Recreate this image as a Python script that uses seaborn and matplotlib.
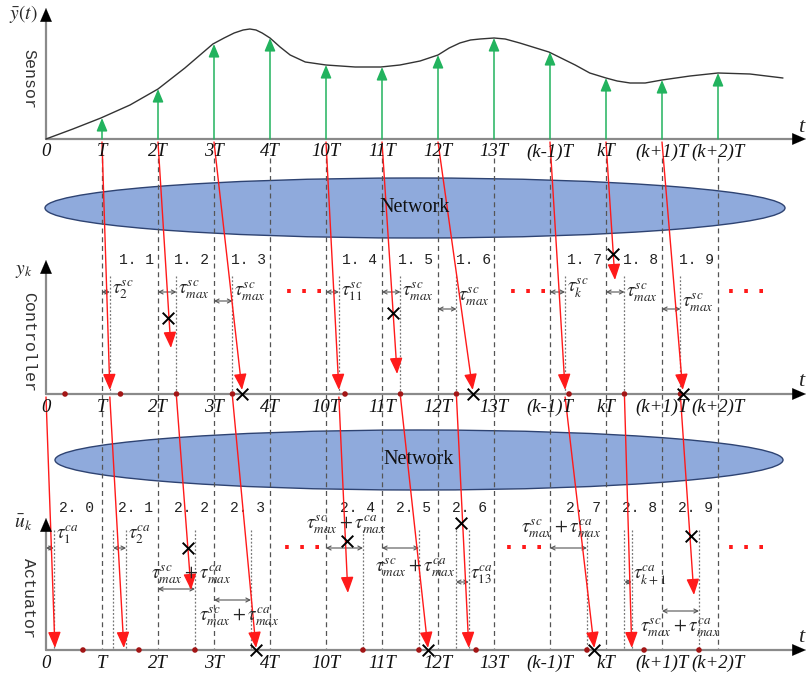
import matplotlib
matplotlib.use("Agg")
import matplotlib.pyplot as plt
from matplotlib.patches import Ellipse
import seaborn as sns

# ---------------- data ----------------
tick_slots = [0, 1, 2, 3, 4, 5, 6, 7, 8, 9, 10, 11, 12]
tick_labels = ["0", "T", "2T", "3T", "4T", "10T", "11T", "12T", "13T",
               "(k-1)T", "kT", "(k+1)T", "(k+2)T"]

# continuous sensor signal (time in sample slots, value = height above axis)
curve_t = [0, 0.48, 0.98, 1.5, 2.0, 2.48, 2.98, 3.18, 3.36, 3.52, 3.64, 3.75, 3.86, 4.0,
           4.18, 4.36, 4.63, 5.0, 5.52, 5.98, 6.32, 6.68, 7.0, 7.2, 7.39, 7.58, 7.75, 8.0,
           8.2, 8.46, 8.98, 9.45, 9.71, 10.0, 10.2, 10.43, 10.7, 11.0, 11.5, 12.0, 12.57,
           13.16]
curve_val = [0, 10, 21, 34, 50, 71, 95, 101, 106, 109, 110, 109, 106, 101,
             92, 84, 77, 74, 72, 72, 74, 78, 84, 91, 96, 99, 100, 101,
             100, 96, 87, 74, 66, 61, 58, 56, 56, 59, 63, 66, 65,
             61]

# sampled values (green arrows)
sample_t = [1, 2, 3, 4, 5, 6, 7, 8, 9, 10, 11, 12]
sample_val = [21, 50, 95, 101, 74, 72, 84, 101, 87, 61, 59, 66]

# sensor -> controller packets
sc_send_t = [1, 2, 3, 5, 6, 7, 9, 10, 11]
sc_recv_t = [1.14, 2.23, 3.50, 5.23, 6.27, 7.62, 9.27, 10.16, 11.37]

# controller delays tau^sc
ctrl_delay_start = [1, 2, 3, 5, 6, 7, 9, 10, 11]
ctrl_delay_end = [1.14, 2.33, 3.33, 5.23, 6.33, 7.33, 9.27, 10.33, 11.33]
ctrl_delay_text = [r"$\tau_2^{sc}$", r"$\tau_{max}^{sc}$", r"$\tau_{max}^{sc}$",
                   r"$\tau_{11}^{sc}$", r"$\tau_{max}^{sc}$", r"$\tau_{max}^{sc}$",
                   r"$\tau_k^{sc}$", r"$\tau_{max}^{sc}$", r"$\tau_{max}^{sc}$"]
ctrl_dot_t = [0.34, 1.33, 2.33, 3.33, 5.34, 6.33, 7.33, 9.34, 10.33, 11.33]
ctrl_cross_axis_t = [3.50, 7.62, 11.37]
ctrl_cross_air_t = [2.18, 6.20, 10.13]

# controller -> actuator packets
ca_send_t = [0, 1.14, 2.33, 3.33, 5.23, 6.33, 7.33, 9.27, 10.33, 11.33]
ca_recv_t = [0.16, 1.39, 2.59, 3.75, 5.39, 6.82, 7.55, 9.79, 10.46, 11.57]

# actuator delays
act_delay_start = [0, 1.20, 2, 3, 5, 6, 7.32, 9, 10.33, 11]
act_delay_end = [0.14, 1.43, 2.66, 3.66, 5.66, 6.66, 7.55, 9.66, 10.46, 11.66]
tsum = r"$\tau_{max}^{sc}+\tau_{max}^{ca}$"
act_delay_text = [r"$\tau_1^{ca}$", r"$\tau_2^{ca}$", tsum, tsum, tsum, tsum,
                  r"$\tau_{13}^{ca}$", tsum, r"$\tau_{k+1}^{ca}$", tsum]
act_dotted_t = [0.14, 1.20, 1.43, 2.66, 3.66, 5.66, 6.66, 7.32, 7.55, 9.66,
                10.33, 10.46, 11.66]
act_dot_t = [0.66, 1.66, 2.66, 5.66, 6.66, 7.68, 9.66, 10.68, 11.66]
act_cross_axis_t = [3.75, 6.82, 9.79]
act_cross_air_t = [2.54, 5.38, 7.41, 11.52]

ctrl_region_t = [1.61, 2.59, 3.61, 5.59, 6.59, 7.63, 9.61, 10.61, 11.61]
ctrl_region_lab = ["1. 1", "1. 2", "1. 3", "1. 4", "1. 5", "1. 6", "1. 7", "1. 8", "1. 9"]
act_region_t = [0.55, 1.60, 2.59, 3.60, 5.57, 6.57, 7.57, 9.60, 10.60, 11.60]
act_region_lab = ["2. 0", "2. 1", "2. 2", "2. 3", "2. 4", "2. 5", "2. 6", "2. 7", "2. 8", "2. 9"]
dots_t_ctrl = [4.6, 8.6, 12.5]
dots_t_act = [4.57, 8.54, 12.5]

# ---------------- layout (pixel-like vertical units) ----------------
PX = 56.0          # pixels per slot
X0 = 46.0          # pixel position of time 0
SENS_Y, CTRL_Y, ACT_Y = 139, 394, 650
sc_end_y = [390, 348, 390, 390, 374, 390, 390, 280, 390]
ctrl_arrow_y = [292, 292, 301, 292, 292, 309, 292, 292, 309]
ctrl_lab_y = [290, 290, 292, 292, 292, 297, 288, 293, 303]
ctrl_cross_air_y = [318, 313, 254]
ca_end_y = [648, 648, 590, 648, 593, 648, 648, 648, 648, 595]
act_arrow_y = [548, 548, 589, 600, 548, 548, 582, 548, 582, 611]
act_lab_y = [535, 535, 575, 617, 525, 568, 575, 529, 575, 628]
act_lab_ha = ["left", "left", "c", "c", "c", "c", "left", "c", "left", "c"]
act_lab_cx = [None, None, 2.59, 3.45, 5.36, 6.59, None, 9.2, None, 11.32]
act_cross_air_y = [548, 541, 523, 536]

sns.set_theme(style="white")
plt.rcParams["mathtext.fontset"] = "stix"
plt.rcParams["font.family"] = ["DejaVu Sans"]

fig = plt.figure(figsize=(8.08, 6.76), dpi=100)
ax = fig.add_axes([0, 0, 1, 1])
ax.set_xlim(-X0 / PX, (808 - X0) / PX)
ax.set_ylim(676, 0)
ax.axis("off")

RED = "#ff1a1a"
GREEN = "#22b35e"
GRAY = "#555555"
AXC = "#8a8a8a"
SERIF = "Liberation Serif"
MONO = "Liberation Mono"
TAU_FS = 13.5


def arrow(x0, y0, x1, y1, color, lw=1.0, style="-|>", ms=12, z=4):
    ax.annotate("", xy=(x1, y1), xytext=(x0, y0),
                arrowprops=dict(arrowstyle=style, color=color, lw=lw,
                                shrinkA=0, shrinkB=0, mutation_scale=ms),
                zorder=z)


def axes_frame(y0, ytop, ylab, ylab_y, name, name_y):
    xend = (806 - X0) / PX
    ax.plot([0, 0], [y0, ytop + 8], color=AXC, lw=1.6, zorder=3)
    ax.plot([0, xend - 0.15], [y0, y0], color=AXC, lw=1.6, zorder=3)
    arrow(0, ytop + 10, 0, ytop, "black", lw=0.1, style="-|>,head_length=0.7,head_width=0.3", ms=14, z=5)
    arrow(xend - 0.18, y0, xend, y0, "black", lw=0.1, style="-|>,head_length=0.7,head_width=0.3", ms=14, z=5)
    ax.text((801 - X0) / PX, y0 - 12, "t", fontsize=16, style="italic",
            family=SERIF, ha="center", va="center")
    ax.text(-0.40, ylab_y, ylab, fontsize=14, ha="center", va="center")
    ax.text(-0.31, name_y, name, fontsize=12, family=MONO, rotation=-90,
            ha="center", va="center", color="#333333")
    for t, lab in zip(tick_slots, tick_labels):
        ax.text(t, y0 + 13, lab, fontsize=13.5, style="italic", family=SERIF,
                ha="center", va="center", color="#111111", zorder=6)


# dashed sample-time guides
ax.vlines(tick_slots[1:], 158, ACT_Y, colors=GRAY, linestyles=(0, (4, 3)), lw=0.9, zorder=1)
# dotted delay guides
ax.vlines(ctrl_delay_end, 276, CTRL_Y, colors="#777777", linestyles=(0, (1.5, 1.5)), lw=0.9, zorder=1)
ax.vlines(act_dotted_t, 530, ACT_Y, colors="#777777", linestyles=(0, (1.5, 1.5)), lw=0.9, zorder=1)

# network ellipses
for cx, cy, w in [((415 - X0) / PX, 208, 740 / PX), ((419 - X0) / PX, 460, 728 / PX)]:
    ax.add_patch(Ellipse((cx, cy), w, 60, facecolor="#8faadc", edgecolor="#2e4372",
                         lw=1.0, zorder=0.5))
    ax.text(cx, cy, "Network", fontsize=14.5, family=SERIF, ha="center",
            va="center", color="#111111", zorder=7)

axes_frame(SENS_Y, 8, r"$\bar{y}(t)$", 14, "Sensor", 79)
axes_frame(CTRL_Y, 260, r"$y_k$", 271, "Controller", 342)
axes_frame(ACT_Y, 518, r"$\bar{u}_k$", 523, "Actuator", 598)

# sensor curve
sns.lineplot(x=curve_t, y=[SENS_Y - v for v in curve_val], ax=ax, color="#333333",
             lw=1.0, sort=False, zorder=3)
# sampled values
for t, v in zip(sample_t, sample_val):
    arrow(t, SENS_Y, t, SENS_Y - v, GREEN, lw=1.1,
          style="-|>,head_length=0.6,head_width=0.25", ms=13, z=4)

# sensor -> controller
for t0, t1, y1 in zip(sc_send_t, sc_recv_t, sc_end_y):
    arrow(t0, SENS_Y + 3, t1, y1, RED, lw=1.0,
          style="-|>,head_length=0.75,head_width=0.3", ms=13)

# controller delays
for s, e, yy, txt, ly in zip(ctrl_delay_start, ctrl_delay_end, ctrl_arrow_y,
                             ctrl_delay_text, ctrl_lab_y):
    arrow(s, yy, e, yy, GRAY, lw=0.8, style="<->,head_length=0.35,head_width=0.18", ms=8, z=3)
    ax.text(e + 0.03, ly, txt, fontsize=TAU_FS, ha="left", va="center", zorder=6)

# controller -> actuator
for t0, t1, y1 in zip(ca_send_t, ca_recv_t, ca_end_y):
    arrow(t0, CTRL_Y + 3, t1, y1, RED, lw=1.0,
          style="-|>,head_length=0.75,head_width=0.3", ms=13)

# actuator delays
for s, e, yy, txt, ly, ha, cx in zip(act_delay_start, act_delay_end, act_arrow_y,
                                      act_delay_text, act_lab_y, act_lab_ha, act_lab_cx):
    arrow(s, yy, e, yy, GRAY, lw=0.8, style="<->,head_length=0.35,head_width=0.18", ms=8, z=3)
    if ha == "left":
        ax.text(e + 0.03, ly, txt, fontsize=TAU_FS, ha="left", va="center", zorder=6)
    else:
        ax.text(cx, ly, txt, fontsize=TAU_FS, ha="center", va="center", zorder=6)

# region labels
for t, lab in zip(ctrl_region_t, ctrl_region_lab):
    ax.text(t, 260, lab, fontsize=10.5, family=MONO, ha="center", va="center", color="#222222")
for t, lab in zip(act_region_t, act_region_lab):
    ax.text(t, 508, lab, fontsize=10.5, family=MONO, ha="center", va="center", color="#222222")

# ellipsis markers
for t in dots_t_ctrl:
    ax.text(t, 292, "\u00b7 \u00b7 \u00b7", fontsize=15, fontweight="bold", color=RED,
            ha="center", va="center")
for t in dots_t_act:
    ax.text(t, 548, "\u00b7 \u00b7 \u00b7", fontsize=15, fontweight="bold", color=RED,
            ha="center", va="center")

# dots and crosses
DOT = "#a31515"
sns.scatterplot(x=ctrl_dot_t, y=[CTRL_Y] * len(ctrl_dot_t), ax=ax, color=DOT, s=16,
                edgecolor="none", zorder=6)
sns.scatterplot(x=act_dot_t, y=[ACT_Y] * len(act_dot_t), ax=ax, color=DOT, s=16,
                edgecolor="none", zorder=6)
cross_t = ctrl_cross_axis_t + ctrl_cross_air_t + act_cross_axis_t + act_cross_air_t
cross_y = ([CTRL_Y] * len(ctrl_cross_axis_t) + ctrl_cross_air_y +
           [ACT_Y] * len(act_cross_axis_t) + act_cross_air_y)
sns.scatterplot(x=cross_t, y=cross_y, ax=ax, marker="x", color="black", s=70,
                linewidth=1.4, zorder=7)

ax.set_xlim(-X0 / PX, (808 - X0) / PX)
ax.set_ylim(676, 0)
if ax.get_legend() is not None:
    ax.get_legend().remove()
fig.savefig("out.png", dpi=100, facecolor="white")
